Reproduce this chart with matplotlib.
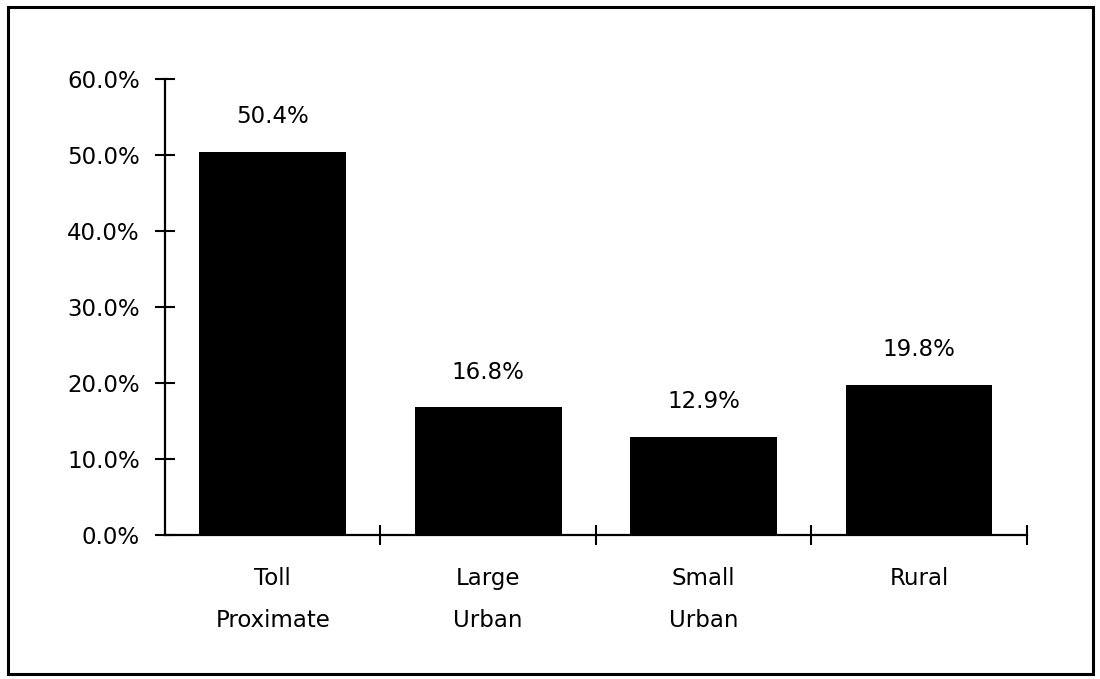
import matplotlib.pyplot as plt
from matplotlib.patches import Rectangle
from matplotlib.ticker import FuncFormatter

categories = ["Toll\nProximate", "Large\nUrban", "Small\nUrban", "Rural"]
shares = [50.4, 16.8, 12.9, 19.8]
y_ticks = [0, 10, 20, 30, 40, 50, 60]

plt.rcParams['font.family'] = ['DejaVu Sans']
FS = 16.5

fig = plt.figure(figsize=(11, 6.79), dpi=100)
ax = fig.add_axes([0.15, 0.212, 0.7836, 0.6717])

x = range(len(shares))
ax.bar(x, shares, width=0.68, color='black')

for xi, v in zip(x, shares):
    ax.annotate(f"{v:.1f}%", (xi, v), xytext=(0, 17), textcoords='offset points',
                ha='center', va='bottom', fontsize=FS)

ax.set_xlim(-0.5, len(shares) - 0.5)
ax.set_ylim(0, 60)
ax.set_yticks(y_ticks)
ax.yaxis.set_major_formatter(FuncFormatter(lambda v, _: f"{v:.1f}%"))

# group boundaries get the visible ticks, category names sit on minor ticks
ax.set_xticks([i + 0.5 for i in x])
ax.set_xticklabels([])
ax.set_xticks(list(x), minor=True)
ax.set_xticklabels(categories, minor=True, fontsize=FS, linespacing=2.05)
ax.tick_params(axis='x', which='minor', length=0, pad=23)
ax.tick_params(axis='x', which='major', direction='inout', length=14, width=1.5)
ax.tick_params(axis='y', direction='inout', length=14, width=1.5, pad=11, labelsize=FS)

for side in ['top', 'right']:
    ax.spines[side].set_visible(False)
for side in ['left', 'bottom']:
    ax.spines[side].set_linewidth(1.6)

# outer frame around the whole chart
fig.patches.append(Rectangle((0.007, 0.008), 0.987, 0.982, transform=fig.transFigure,
                             fill=False, edgecolor='black', linewidth=2.2))

fig.savefig("out.png", dpi=100)
